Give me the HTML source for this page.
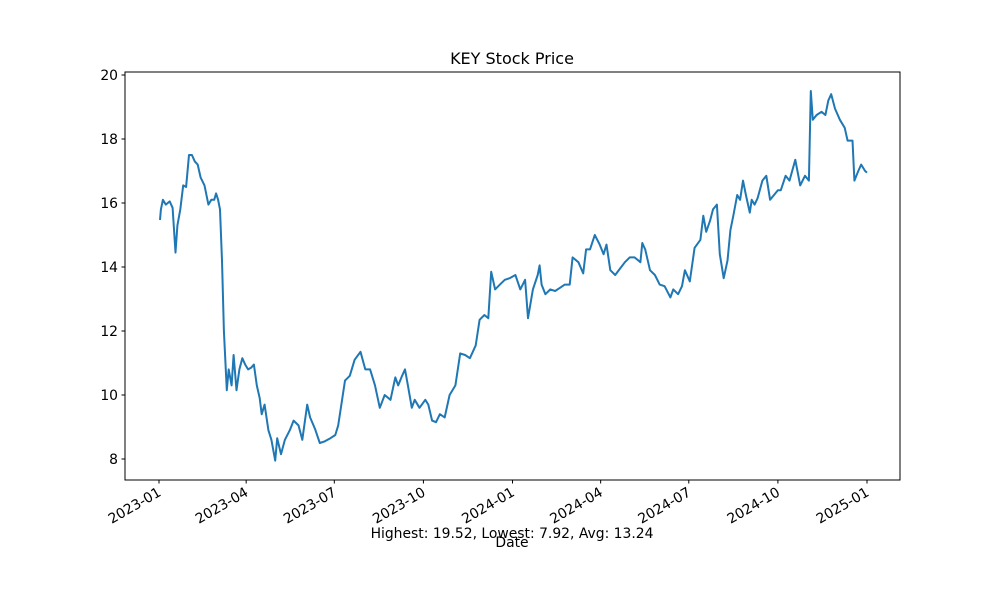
<!DOCTYPE html>
<html><head><meta charset="utf-8"><style>body{margin:0;background:#fff}svg{display:block;font-family:"DejaVu Sans","Liberation Sans",sans-serif}</style></head>
<body>
<svg id="chart" width="1000" height="600">
<rect width="1000" height="600" fill="#fff"/>
<text x="512" y="64" text-anchor="middle" font-size="16">KEY Stock Price</text>
<g id="grid"></g>
<polyline id="line" fill="none" stroke="#1f77b4" stroke-width="2" stroke-linejoin="round"/>
<rect x="125" y="72" width="775" height="408" fill="none" stroke="#000" stroke-width="1"/>
<text x="512" y="538" text-anchor="middle" font-size="13.9">Highest: 19.52, Lowest: 7.92, Avg: 13.24</text>
<text x="512" y="547" text-anchor="middle" font-size="13.9">Date</text>
</svg>
<script>
const days=[1,2,4,7,11,14,17,19,22,25,28,31,34,37,40,43,47,51,54,57,59,61,63,65,67,70,72,75,77,80,83,86,89,92,95,98,101,104,106,109,113,116,120,122,126,130,135,139,144,148,153,156,161,166,171,177,182,185,192,197,202,208,213,218,223,228,233,239,244,247,251,254,257,261,264,269,275,278,282,286,290,295,300,306,311,316,321,327,331,336,340,343,347,352,357,362,368,373,378,381,386,391,393,395,399,404,409,414,419,424,427,433,438,441,445,450,455,459,462,466,471,476,481,486,491,497,499,502,507,512,517,522,528,531,536,540,543,548,553,559,562,565,569,572,576,579,583,587,590,593,597,600,603,606,610,612,615,618,623,627,631,635,639,642,647,651,657,662,667,671,673,675,679,684,688,691,694,698,703,708,711,716,718,722,725,729,731];
const prices=[15.47,15.8,16.1,15.95,16.05,15.85,14.45,15.3,15.8,16.55,16.5,17.5,17.5,17.3,17.2,16.8,16.55,15.95,16.1,16.1,16.3,16.1,15.8,14.2,12.0,10.15,10.8,10.3,11.25,10.15,10.8,11.15,10.95,10.8,10.85,10.95,10.3,9.9,9.4,9.7,8.9,8.6,7.95,8.65,8.15,8.6,8.9,9.2,9.05,8.6,9.7,9.3,8.95,8.5,8.55,8.65,8.75,9.05,10.45,10.6,11.1,11.35,10.8,10.8,10.3,9.6,10.0,9.85,10.55,10.3,10.6,10.8,10.3,9.6,9.85,9.6,9.85,9.7,9.2,9.15,9.4,9.3,10.0,10.3,11.3,11.25,11.15,11.55,12.35,12.5,12.4,13.85,13.3,13.45,13.6,13.65,13.75,13.3,13.6,12.4,13.3,13.75,14.05,13.45,13.15,13.3,13.25,13.35,13.45,13.45,14.3,14.15,13.8,14.55,14.55,15.0,14.7,14.4,14.7,13.9,13.75,13.95,14.15,14.3,14.3,14.15,14.75,14.55,13.9,13.75,13.45,13.4,13.05,13.3,13.15,13.4,13.9,13.55,14.6,14.85,15.6,15.1,15.45,15.8,15.95,14.4,13.65,14.2,15.15,15.6,16.25,16.1,16.7,16.25,15.7,16.1,15.95,16.15,16.7,16.85,16.1,16.25,16.4,16.4,16.85,16.7,17.35,16.55,16.85,16.7,19.5,18.6,18.75,18.85,18.75,19.2,19.4,18.95,18.6,18.35,17.95,17.95,16.7,17.0,17.2,17.0,16.95];
const yTicks=[8,10,12,14,16,18,20];
const xTickDays=[0,90,181,273,365,456,547,639,731];
const xTickLabels=["2023-01","2023-04","2023-07","2023-10","2024-01","2024-04","2024-07","2024-10","2025-01"];
const X=d=>159+d*708/731;
const Y=v=>459-(v-8)*32;
const NS="http://www.w3.org/2000/svg";
const g=document.getElementById('grid');
function mk(t,a){const e=document.createElementNS(NS,t);for(const k in a)e.setAttribute(k,a[k]);g.appendChild(e);return e;}
yTicks.forEach(v=>{
 const l=mk('line',{x1:121.5,x2:125,y1:Y(v),y2:Y(v),stroke:'#000'});
 
 
 const t=mk('text',{x:118,y:Y(v)+5,'text-anchor':'end','font-size':'13.9'});
 t.textContent=v;
 
 
});
xTickDays.forEach((d,i)=>{
 const x=X(d);
 const l=mk('line',{x1:x,x2:x,y1:480,y2:483.5,stroke:'#000'});
 
 
 const t=mk('text',{x:x+3,y:495,'text-anchor':'end','font-size':'13.9',transform:`rotate(-30 ${x+3} 495)`});
 t.textContent=xTickLabels[i];
 
 
});
document.getElementById('line').setAttribute('points',days.map((d,i)=>X(d).toFixed(1)+','+Y(prices[i]).toFixed(1)).join(' '));
</script>
</body></html>
